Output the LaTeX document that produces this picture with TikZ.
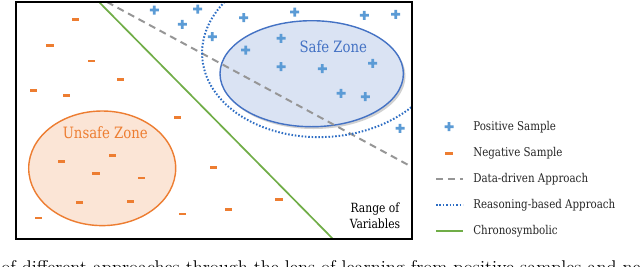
\documentclass[tikz,border=0pt]{standalone}
\usepackage{fontspec}
\usepackage{xcolor}
\usetikzlibrary{positioning}
\newfontfamily\zonefont{DejaVu Serif}[FakeStretch=0.85]
\definecolor{posblue}{RGB}{91,155,213}
\definecolor{negorange}{RGB}{237,125,49}
\definecolor{safeline}{RGB}{68,114,196}
\definecolor{safefill}{RGB}{218,227,243}
\definecolor{unsafefill}{RGB}{251,229,214}
\definecolor{datagray}{RGB}{150,150,150}
\definecolor{reasonblue}{RGB}{46,110,196}
\definecolor{chronogreen}{RGB}{112,173,71}

\begin{document}
\begin{tikzpicture}[x=0.025cm, y=-0.025cm,
  possample/.pic={\fill[posblue] (-4.5,-1.4) rectangle (4.5,1.4)
    (-1.4,-4.5) rectangle (1.4,4.5);},
  negsample/.pic={\fill[negorange] (-3.6,-1.4) rectangle (3.6,1.4);},
  zonetext/.style={font=\zonefont\fontsize{11.1}{13}\selectfont, inner sep=0pt},
  lgtext/.style={font=\zonefont\fontsize{8.6}{10}\selectfont, anchor=west,
    inner sep=0pt, text=black!85},
  dataline/.style={datagray, line width=1.4pt, dash pattern=on 5pt off 3.5pt},
  reasonline/.style={reasonblue, line width=1.4pt, dash pattern=on 1.1pt off 1.3pt},
  chronoline/.style={chronogreen, line width=1.2pt},
]
  \useasboundingbox (0,0) rectangle (640,266);
  \fill[white] (0,0) rectangle (640,266);

  % Range of variables
  \coordinate (boxtl) at (16,2);
  \coordinate (boxbr) at (412,239);

  % Zones
  \fill[black!18] (313.5,76) ellipse [x radius=92, y radius=53];
  \draw[safeline, fill=safefill, line width=1pt]
    (311.7,73.7) ellipse [x radius=91.7, y radius=53];
  \draw[negorange, fill=unsafefill, line width=1pt]
    (102.2,168.3) ellipse [x radius=73.5, y radius=57.3];

  % Approaches
  \begin{scope}
    \clip (boxtl) rectangle (boxbr);
    \coordinate (greenA) at (99,2);
    \coordinate (greenB) at (333,239);
    \coordinate (dataA) at (107,2);
    \coordinate (dataB) at (412,167);
    \draw[chronoline] (greenA) -- (greenB);
    \draw[dataline] (dataA) -- (dataB);
    \draw[reasonline, rotate around={3:(323,50)}]
      (323,50) ellipse [x radius=121, y radius=87];
  \end{scope}

  % Samples
  \foreach \px/\py in {154.3/10, 197.7/9, 182.3/24.3, 243.7/17.7, 294.7/12,
      364.3/15.3, 395.7/14.3, 212.3/36.7, 281/38.3, 245.7/50, 281/66.7,
      322.3/68.7, 372.7/63.3, 341/93.3, 365.3/96.7, 400/128.3}
    \pic at (\px,\py) {possample};
  \foreach \nx/\ny in {75.7/19.7, 50/45.3, 91.7/61, 120.7/79.7, 33.3/90.7,
      66.3/95.7, 177.3/117.7, 112.7/155.7, 61.3/161.7, 96/173.3, 141.3/178,
      213.3/167.7, 79.3/202.3, 130.3/201.7, 279/199.3, 228.7/209.7,
      182.7/214, 38.7/218}
    \pic at (\nx,\ny) {negsample};

  \node[zonetext, text=safeline] (safe) at (333.3,47) {Safe Zone};
  \node[zonetext, text=negorange] (unsafe) at (105.3,132.5) {Unsafe Zone};
  \node[font=\zonefont\fontsize{9}{11.2}\selectfont, align=center,
    inner sep=0pt] (range) at (375,216) {Range of\\Variables};

  \draw[black, line width=1.4pt] (boxtl) rectangle (boxbr);

  % Legend
  \node[lgtext] (lgpos) at (473,127) {Positive Sample};
  \node[lgtext] (lgneg) at (473,153.5) {Negative Sample};
  \node[lgtext] (lgdata) at (473,179.5) {Data-driven Approach};
  \node[lgtext] (lgreason) at (473,205.5) {Reasoning-based Approach};
  \node[lgtext] (lgchrono) at (473,231.5) {Chronosymbolic};
  \pic at (449,126.7) {possample};
  \pic at (449,153.3) {negsample};
  \coordinate (lgdataA) at (436,178.7);
  \coordinate (lgdataB) at (463,178.7);
  \coordinate (lgreasonA) at (436,205);
  \coordinate (lgreasonB) at (463,205);
  \coordinate (lgchronoA) at (436,231);
  \coordinate (lgchronoB) at (463,231);
  \draw[dataline] (lgdataA) -- (lgdataB);
  \draw[reasonline, line width=1.1pt] (lgreasonA) -- (lgreasonB);
  \draw[chronoline] (lgchronoA) -- (lgchronoB);

  % Caption, cut by the page edge
  \node[font=\fontsize{13.1}{15}\selectfont, anchor=base west, inner sep=0pt]
    (caption) at (1,273.5)
    {of different approaches through the lens of learning from positive samples and negative};
\end{tikzpicture}
\end{document}
